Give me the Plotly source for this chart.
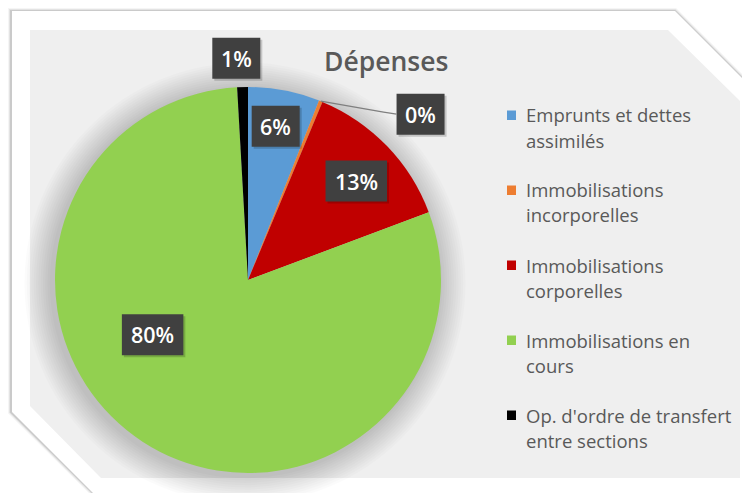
import math
import plotly.graph_objects as go

# ---------------- data ----------------
categories = [
    "Emprunts et dettes assimilés",
    "Immobilisations incorporelles",
    "Immobilisations corporelles",
    "Immobilisations en cours",
    "Op. d'ordre de transfert entre sections",
]
legend_lines = [
    ["Emprunts et dettes", "assimilés"],
    ["Immobilisations", "incorporelles"],
    ["Immobilisations", "corporelles"],
    ["Immobilisations en", "cours"],
    ["Op. d'ordre de transfert", "entre sections"],
]
values = [6.0, 0.3, 13.0, 79.8, 0.9]
colors = ["#5B9BD5", "#ED7D31", "#C00000", "#92D050", "#000000"]
title_text = "Dépenses"

# ---------------- style / geometry ----------------
W, H = 750, 493
OFF = 8                              # page body margin compensation
CX, CY, R = 248, 280, 193            # pie centre / radius (page pixels)
lab_r = [0.81, 1.24, 0.76, 0.57, 1.15]   # label radius (fraction of R)
lab_da = [-0.6, 24.0, 1.5, 27.0, -1.4]   # label angle offset (deg)
TXT = "#595959"
FONT = "Open Sans"


def px(x):
    return (x - OFF) / W


def py(y):
    return 1 - (y - OFF) / H


def poly_path(pts):
    return "M " + " L ".join(f"{px(x):.5f},{py(y):.5f}" for x, y in pts) + " Z"


total = sum(values)
pct_labels = [f"{round(v / total * 100)}%" for v in values]

fig = go.Figure()
fig.add_trace(go.Pie(
    labels=categories,
    values=values,
    sort=False,
    direction="clockwise",
    rotation=0,
    marker=dict(colors=colors, line=dict(width=0)),
    textinfo="none",
    hoverinfo="label+percent",
    showlegend=False,
    domain=dict(x=[px(CX - R), px(CX + R)], y=[py(CY + R), py(CY - R)]),
))

shapes = []
# frame drop shadow
outer = [(12, 11), (675, 11), (749, 85), (749, 493), (93, 493), (12, 412)]
for i, a in enumerate([0.04, 0.07, 0.11]):
    d = 3 - i
    pts = [(12 - d - 1, 11 - d), (675 + d * 0.4, 11 - d), (749 + d, 85 - d * 0.4),
           (749 + d, 493 + d), (93 - d * 0.4, 493 + d), (12 - d - 1, 412 + d * 0.4)]
    shapes.append(dict(type="path", path=poly_path(pts), xref="paper", yref="paper",
                       fillcolor=f"rgba(0,0,0,{a})", line=dict(width=0), layer="below"))
shapes.append(dict(type="path", path=poly_path(outer), xref="paper", yref="paper",
                   fillcolor="#FFFFFF", line=dict(width=0), layer="below"))
# inner grey panel
inner = [(30, 30), (668, 30), (740, 101), (740, 478), (101, 478), (30, 406)]
shapes.append(dict(type="path", path=poly_path(inner), xref="paper", yref="paper",
                   fillcolor="#EFEFEF", line=dict(width=0), layer="below"))
# soft shadow around the pie
for k in range(12, 0, -1):
    rr = R + k * 2.3
    shapes.append(dict(type="circle", xref="paper", yref="paper",
                       x0=px(CX - 3 - rr), x1=px(CX - 3 + rr),
                       y0=py(CY + 3 + rr), y1=py(CY + 3 - rr),
                       fillcolor="rgba(0,0,0,0.014)", line=dict(width=0), layer="below"))

annotations = []
# title
annotations.append(dict(text=title_text, x=px(386), y=py(61), xref="paper", yref="paper",
                        showarrow=False, font=dict(family=FONT, size=26.5, color=TXT, weight=600),
                        xanchor="center", yanchor="middle"))

# data labels (box + text)
cum = 0.0
label_pos = []
for i, v in enumerate(values):
    mid = (cum + v / 2) / total * 360.0
    cum += v
    ang = math.radians(mid + lab_da[i])
    lx = CX + lab_r[i] * R * math.sin(ang)
    ly = CY - lab_r[i] * R * math.cos(ang)
    label_pos.append((lx, ly, mid))

for i in range(len(values)):
    lx, ly, mid = label_pos[i]
    bw = 21 + 13.5 * len(pct_labels[i])
    bh = 41
    shapes.append(dict(type="rect", xref="paper", yref="paper",
                       x0=px(lx - bw / 2 + 2), x1=px(lx + bw / 2 + 2),
                       y0=py(ly + bh / 2 + 2), y1=py(ly - bh / 2 + 2),
                       fillcolor="rgba(0,0,0,0.18)", line=dict(width=0), layer="above"))
    shapes.append(dict(type="rect", xref="paper", yref="paper",
                       x0=px(lx - bw / 2), x1=px(lx + bw / 2),
                       y0=py(ly + bh / 2), y1=py(ly - bh / 2),
                       fillcolor="#404040", line=dict(width=0), layer="above"))
    annotations.append(dict(text=pct_labels[i], x=px(lx), y=py(ly), xref="paper", yref="paper",
                            showarrow=False, xanchor="center", yanchor="middle",
                            font=dict(family=FONT, size=21.5, color="#FFFFFF", weight=600)))

# leader line for the outside label of the tiny slice
lx, ly, mid = label_pos[1]
a = math.radians(mid)
sx, sy = CX + R * math.sin(a), CY - R * math.cos(a)
bw1 = 21 + 13.5 * len(pct_labels[1])
shapes.append(dict(type="path", xref="paper", yref="paper",
                   path=(f"M {px(sx):.5f},{py(sy):.5f} L {px(lx - bw1 / 2 - 13):.5f},{py(ly - 2):.5f} "
                         f"L {px(lx - bw1 / 2):.5f},{py(ly):.5f}"),
                   line=dict(color="#7F7F7F", width=1.3), layer="above"))

# legend (built from categories / colors)
LX, LY0, STEP, LINE = 524, 115, 75, 25
for i, lines in enumerate(legend_lines):
    y0 = LY0 + i * STEP
    shapes.append(dict(type="rect", xref="paper", yref="paper",
                       x0=px(507), x1=px(516), y0=py(y0 + 5), y1=py(y0 - 4.5),
                       fillcolor=colors[i], line=dict(width=0)))
    for j, t in enumerate(lines):
        annotations.append(dict(text=t, x=px(LX), y=py(y0 + j * LINE), xref="paper", yref="paper",
                                showarrow=False, xanchor="left", yanchor="middle",
                                font=dict(family=FONT, size=18.5, color=TXT)))

fig.update_layout(
    width=W, height=H, autosize=False,
    margin=dict(l=0, r=0, t=0, b=0),
    paper_bgcolor="#FFFFFF",
    plot_bgcolor="rgba(0,0,0,0)",
    shapes=shapes,
    annotations=annotations,
    showlegend=False,
)

fig.write_html("out.html")
